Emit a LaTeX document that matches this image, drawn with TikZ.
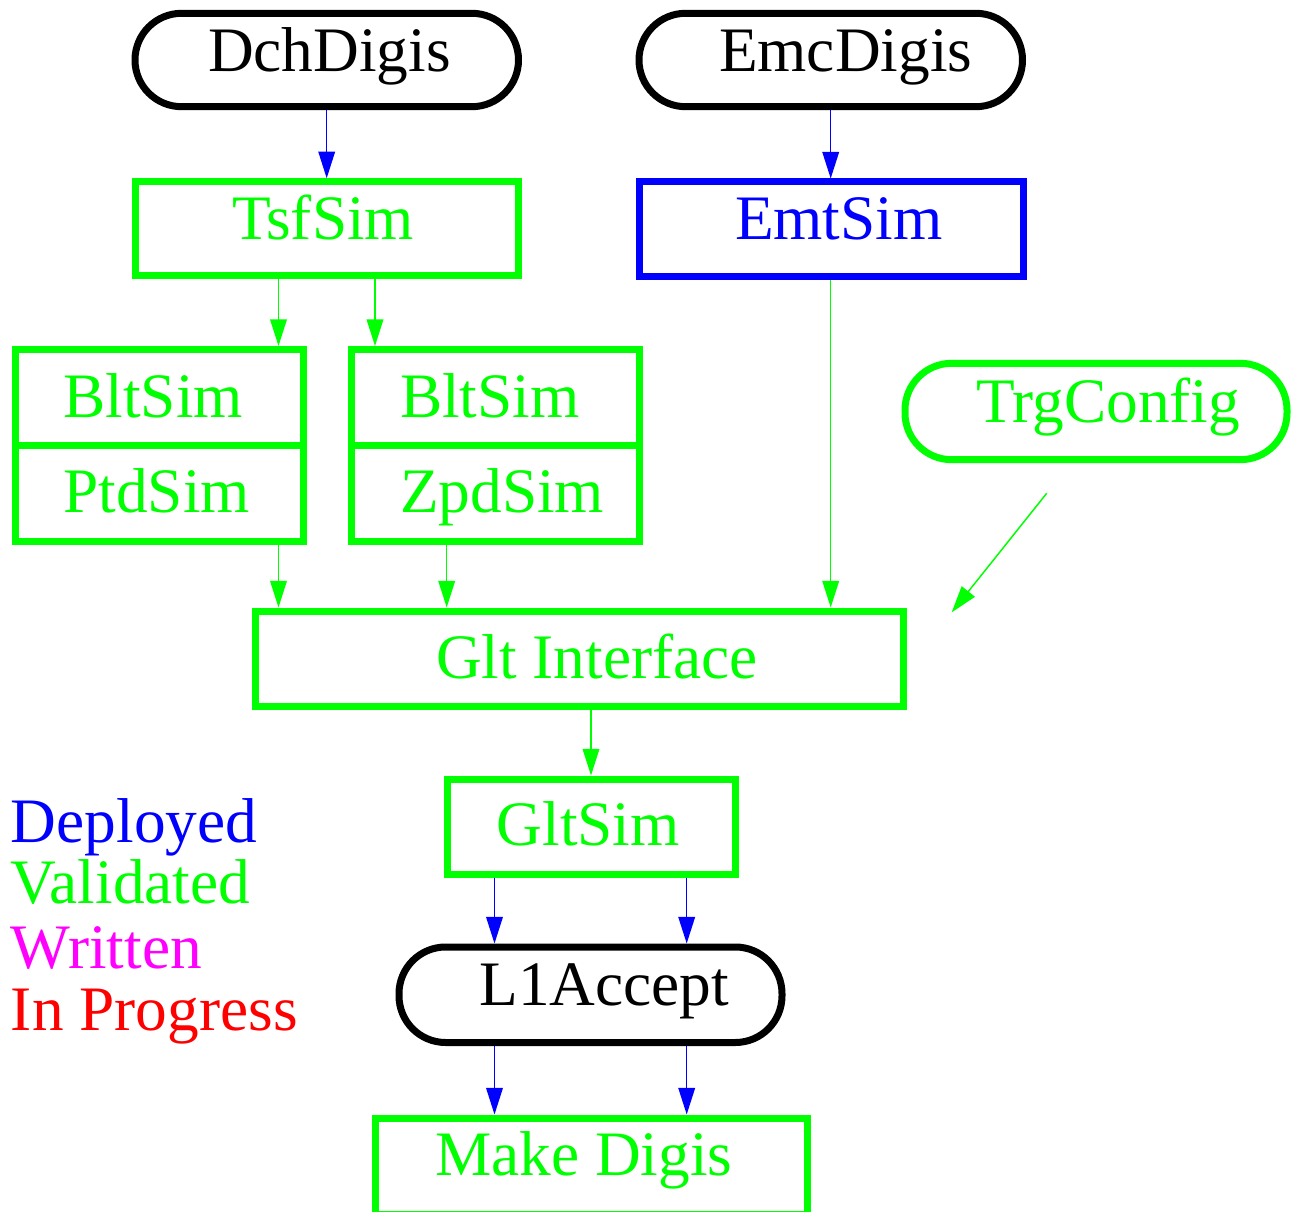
\documentclass[tikz,border=0pt]{standalone}
\usepackage{fontspec}
\setmainfont{Liberation Serif}
\usetikzlibrary{arrows.meta}
\newlength\pxu
\setlength\pxu{0.75pt}
\definecolor{dgreen}{RGB}{0,255,0}
\definecolor{dblue}{RGB}{0,0,255}
\definecolor{dmag}{RGB}{255,0,255}
\definecolor{dred}{RGB}{255,0,0}
\tikzset{
  boxg/.style={draw=dgreen, line width=5.25pt, outer sep=2.625pt, inner sep=0pt, rectangle},
  boxb/.style={draw=dblue, line width=5.25pt, outer sep=2.625pt, inner sep=0pt, rectangle},
  pill/.style={draw=#1, line width=5.25pt, outer sep=2.625pt, inner sep=0pt, rectangle, rounded corners=35pt},
  lbl/.style={anchor=base west, inner sep=0pt, outer sep=0pt, font=\fontsize{47.5}{56}\selectfont},
  arrg/.style={draw=dgreen, line width=1.1pt, -{Triangle[length=20pt,width=12.5pt]}},
  arrb/.style={draw=dblue, line width=1.1pt, -{Triangle[length=20pt,width=12.5pt]}},
}
\begin{document}
\begin{tikzpicture}[x=0.75pt, y=-0.75pt]
\useasboundingbox (0,0) rectangle (1300,1212);
% shapes
\node[pill=black, minimum width=383.5\pxu, minimum height=93.4\pxu] (dch) at (326.75,60) {};
\node[pill=black, minimum width=383.5\pxu, minimum height=93.4\pxu] (emc) at (830.75,60) {};
\node[boxg, minimum width=383\pxu, minimum height=94.3\pxu] (tsf) at (326.5,228.85) {};
\node[boxb, minimum width=384\pxu, minimum height=95\pxu] (emt) at (831,229.5) {};
\node[boxg, minimum width=288\pxu, minimum height=96\pxu] (blt1) at (159,397.5) {};
\node[boxg, minimum width=288\pxu, minimum height=95.5\pxu] (ptd) at (159,493.25) {};
\node[boxg, minimum width=288\pxu, minimum height=96\pxu] (blt2) at (495,397.5) {};
\node[boxg, minimum width=288\pxu, minimum height=95.5\pxu] (zpd) at (495,493.25) {};
\node[pill=dgreen, minimum width=382\pxu, minimum height=96.4\pxu] (trg) at (1096,411.5) {};
\node[boxg, minimum width=647.8\pxu, minimum height=95.7\pxu] (glt) at (579.4,658.85) {};
\node[boxg, minimum width=288\pxu, minimum height=95\pxu] (gsim) at (591.5,826.5) {};
\node[pill=black, minimum width=383\pxu, minimum height=95.5\pxu] (l1) at (590.5,994.75) {};
\node[boxg, minimum width=431.5\pxu, minimum height=96\pxu] (mk) at (591.25,1166) {};
% texts
\node[lbl, text=black] (t-dch) at (208,72) {DchDigis};
\node[lbl, text=black] (t-emc) at (719,72) {EmcDigis};
\node[lbl, text=dgreen] (t-tsf) at (232,240) {TsfSim};
\node[lbl, text=dblue] (t-emt) at (735,240) {EmtSim};
\node[lbl, text=dgreen] (t-blt1) at (63.5,417.3) {BltSim};
\node[lbl, text=dgreen] (t-ptd) at (63.5,512.7) {PtdSim};
\node[lbl, text=dgreen] (t-blt2) at (400,417.3) {BltSim};
\node[lbl, text=dgreen] (t-zpd) at (400,512.7) {ZpdSim};
\node[lbl, text=dgreen] (t-trg) at (976,422.7) {TrgConfig};
\node[lbl, text=dgreen] (t-glt) at (436,678.3) {Glt Interface};
\node[lbl, text=dgreen] (t-gsim) at (496.7,845) {GltSim};
\node[lbl, text=black] (t-l1) at (479.3,1005) {L1Accept};
\node[lbl, text=dgreen] (t-mk) at (435,1175) {Make Digis};
% legend
\node[lbl, text=dblue] (lg1) at (11,842) {Deployed};
\node[lbl, text=dgreen] (lg2) at (11,903) {Validated};
\node[lbl, text=dmag] (lg3) at (11,968) {Written};
\node[lbl, text=dred] (lg4) at (11,1030) {In Progress};
% connector columns
\coordinate (c278) at (278.5,0);
\coordinate (c375) at (375,0);
\coordinate (c447) at (446.7,0);
\coordinate (c591) at (591,0);
\coordinate (c494) at (494.5,0);
\coordinate (c687) at (686.7,0);
\coordinate (c831) at (830.7,0);
\coordinate (c327) at (326.7,0);
\coordinate (trgA) at (1046.7,493.3);
\coordinate (trgB) at (951.7,612.3);
% connectors
\draw[arrb] (dch.south -| c327) -- (tsf.north -| c327);
\draw[arrb] (emc.south -| c831) -- (emt.north -| c831);
\draw[arrg] (tsf.south -| c278) -- (blt1.north -| c278);
\draw[arrg] (tsf.south -| c375) -- (blt2.north -| c375);
\draw[arrg] (emt.south -| c831) -- (glt.north -| c831);
\draw[arrg] (ptd.south -| c278) -- (glt.north -| c278);
\draw[arrg] (zpd.south -| c447) -- (glt.north -| c447);
\draw[arrg] (trgA) -- (trgB);
\draw[arrg] (glt.south -| c591) -- (gsim.north -| c591);
\draw[arrb] (gsim.south -| c494) -- (l1.north -| c494);
\draw[arrb] (gsim.south -| c687) -- (l1.north -| c687);
\draw[arrb] (l1.south -| c494) -- (mk.north -| c494);
\draw[arrb] (l1.south -| c687) -- (mk.north -| c687);
\end{tikzpicture}
\end{document}
